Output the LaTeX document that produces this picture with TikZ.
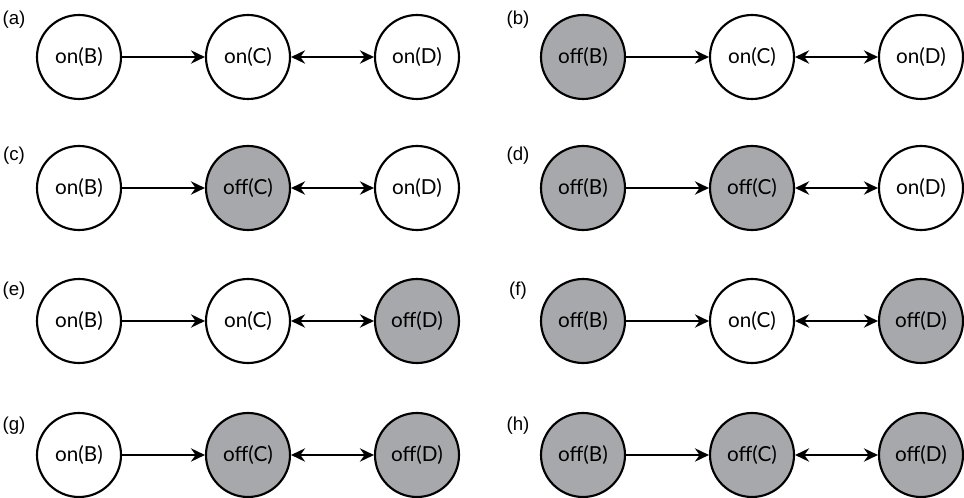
\documentclass[tikz,border=0pt]{standalone}
\usepackage{fontspec}
\setmainfont{Liberation Sans}
\newfontfamily\statefont{Lato}
\usetikzlibrary{arrows.meta}
\definecolor{offgray}{HTML}{A7A8AB}
\tikzset{
  state/.style={circle, draw, line width=1.6pt, minimum size=63pt, inner sep=0pt,
    font=\statefont\fontsize{15.5}{18}\selectfont},
  st-on/.style={state, fill=white},
  st-off/.style={state, fill=offgray},
  tip/.tip={Stealth[length=10.5pt, width=10pt, inset=3.5pt]},
  link/.style={line width=1.6pt, -tip},
  bilink/.style={line width=1.6pt, tip-tip},
  panellabel/.style={inner sep=0pt, font=\fontsize{14}{16}\selectfont}
}
\begin{document}
\begin{tikzpicture}[x=0.75pt, y=-0.75pt]
  \useasboundingbox (0,0) rectangle (964,498);
  % label / column / circle row y / label y / state of B, C, D
  \foreach \p/\col/\cy/\ly/\sb/\sc/\sd in {
      a/0/57/20/on/on/on,     b/1/57/20/off/on/on,
      c/0/188/156/on/off/on,  d/1/188/156/off/off/on,
      e/0/321/291/on/on/off,  f/1/321/291/off/on/off,
      g/0/455/426/on/off/off, h/1/455/426/off/off/off} {
    \pgfmathsetmacro{\ox}{504*\col}
    \node[panellabel] (lab\p) at (\ox+14, \ly) {(\p)};
    \node[st-\sb] (B\p) at (\ox+79,  \cy) {\sb(B)};
    \node[st-\sc] (C\p) at (\ox+248, \cy) {\sc(C)};
    \node[st-\sd] (D\p) at (\ox+417, \cy) {\sd(D)};
    \draw[link] (B\p) -- (C\p);
    \draw[bilink] (C\p) -- (D\p);
  }
\end{tikzpicture}
\end{document}
